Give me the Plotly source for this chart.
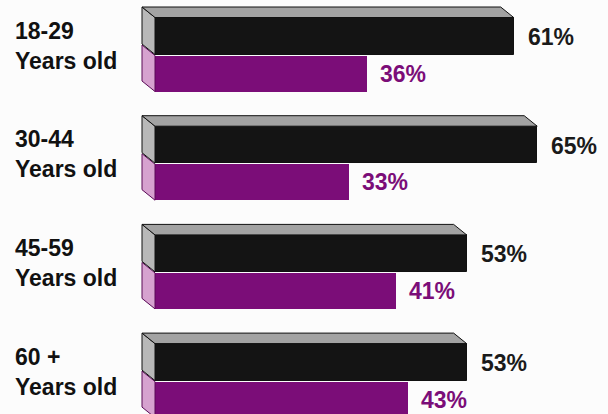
import plotly.graph_objects as go

# ---- data ----
age_groups = ["18-29<br>Years old", "30-44<br>Years old", "45-59<br>Years old", "60 +<br>Years old"]
black_values = [61, 65, 53, 53]
purple_values = [36, 33, 41, 43]

# ---- layout constants (pixel-based) ----
W, H = 608, 414
PX_PER_UNIT = 5.88      # pixels per percentage point
X0_PX = 155             # pixel x of value 0
GROUP_STEP = 108.7
FRONT_TOP = 17.5
BLACK_H = 37.0
GAP = 1.0
PURPLE_H = 36.0
DEPTH_X = 13 / PX_PER_UNIT
DEPTH_Y = 10.5

BLACK = "#141414"
PURPLE = "#7b0d78"
TOP_GRAY = "#a3a3a3"
SIDE_GRAY = "#b8b8b8"
SIDE_PINK = "#d6a2cf"
FONT = "Liberation Sans, Arial, Helvetica, sans-serif"

fig = go.Figure()

black_centers, purple_centers = [], []
for i, (bv, pv) in enumerate(zip(black_values, purple_values)):
    yt = FRONT_TOP + i * GROUP_STEP
    yb = yt + BLACK_H
    pt = yb + GAP
    pb = pt + PURPLE_H
    black_centers.append((yt + yb) / 2)
    purple_centers.append((pt + pb) / 2)

    # purple left side face
    fig.add_trace(go.Scatter(
        x=[0, 0, -DEPTH_X, -DEPTH_X, 0],
        y=[pt, pb, pb - DEPTH_Y, pt - DEPTH_Y, pt],
        fill="toself", fillcolor=SIDE_PINK, mode="lines",
        line=dict(color="#5a0a57", width=1), hoverinfo="skip", showlegend=False))
    # black left side face
    fig.add_trace(go.Scatter(
        x=[0, 0, -DEPTH_X, -DEPTH_X, 0],
        y=[yt, yb, yb - DEPTH_Y, yt - DEPTH_Y, yt],
        fill="toself", fillcolor=SIDE_GRAY, mode="lines",
        line=dict(color="#111", width=1), hoverinfo="skip", showlegend=False))
    # black top face
    fig.add_trace(go.Scatter(
        x=[0, bv, bv - DEPTH_X, -DEPTH_X, 0],
        y=[yt, yt, yt - DEPTH_Y, yt - DEPTH_Y, yt],
        fill="toself", fillcolor=TOP_GRAY, mode="lines",
        line=dict(color="#111", width=1), hoverinfo="skip", showlegend=False))

fig.add_trace(go.Bar(
    orientation="h", x=black_values, y=black_centers, base=0,
    width=[BLACK_H] * 4, marker=dict(color=BLACK, line=dict(color="#111", width=1)),
    hoverinfo="skip", showlegend=False))
fig.add_trace(go.Bar(
    orientation="h", x=purple_values, y=purple_centers, base=0,
    width=[PURPLE_H] * 4, marker=dict(color=PURPLE, line=dict(color=PURPLE, width=0)),
    hoverinfo="skip", showlegend=False))

annotations = []
for i in range(4):
    annotations.append(dict(
        x=black_values[i], y=black_centers[i] + 1, xref="x", yref="y",
        text=f"{black_values[i]}%", showarrow=False, xanchor="left", yanchor="middle",
        xshift=12, font=dict(family=FONT, size=23, color="#1a1a1a", weight="bold")))
    annotations.append(dict(
        x=purple_values[i], y=purple_centers[i], xref="x", yref="y",
        text=f"{purple_values[i]}%", showarrow=False, xanchor="left", yanchor="middle",
        xshift=11, font=dict(family=FONT, size=23, color=PURPLE, weight="bold")))
    annotations.append(dict(
        x=13 / W, y=FRONT_TOP + i * GROUP_STEP + 28, xref="paper", yref="y",
        text=age_groups[i], showarrow=False, xanchor="left", yanchor="middle", align="left",
        font=dict(family=FONT, size=23, color="#111", weight="bold")))

fig.update_layout(
    width=W, height=H, margin=dict(l=0, r=0, t=0, b=0),
    paper_bgcolor="#fcfcfc", plot_bgcolor="#fcfcfc",
    barmode="overlay", bargap=0,
    xaxis=dict(range=[-X0_PX / PX_PER_UNIT, (W - X0_PX) / PX_PER_UNIT], visible=False, fixedrange=True),
    yaxis=dict(range=[H, 0], visible=False, fixedrange=True),
    annotations=annotations,
)

fig.write_html("out.html")
